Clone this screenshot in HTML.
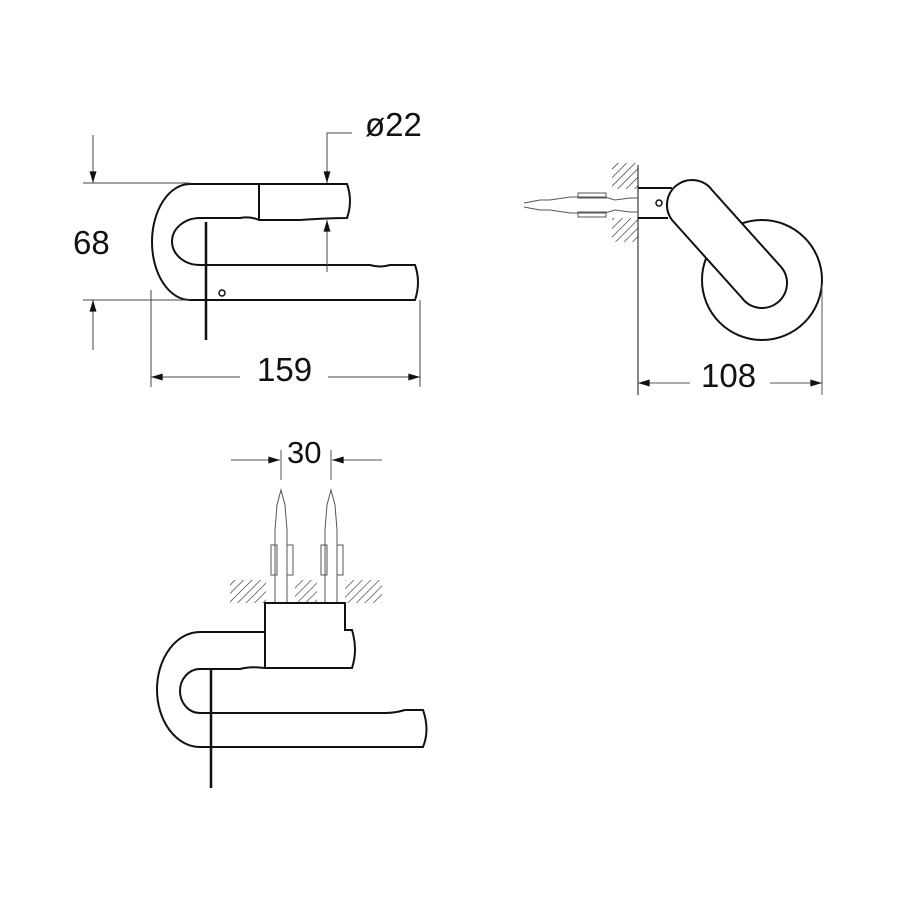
<!DOCTYPE html>
<html><head><style>body{margin:0;background:#fff}svg{display:block}text{font-family:"Liberation Sans",sans-serif;fill:#111}</style></head>
<body>
<svg width="900" height="900" viewBox="0 0 900 900" xmlns="http://www.w3.org/2000/svg">
<defs>
<pattern id="h" width="6" height="6" patternUnits="userSpaceOnUse" patternTransform="rotate(45)"><line x1="0" y1="0" x2="0" y2="6" stroke="#333" stroke-width="1.3"/></pattern>
<marker id="a" viewBox="0 0 10 6" refX="10" refY="3" markerWidth="12" markerHeight="7" orient="auto" markerUnits="userSpaceOnUse"><path d="M0,0L10,3L0,6z" fill="#111"/></marker>
</defs>
<g fill="none" stroke="#111" stroke-width="2">
<!-- top view -->
<path d="M347,184 L190,184 A38,58 0 0 0 190,300 L415,300 Q421,282 415,265 L390,265 Q380,268 370,265 L200,265 A28,23.5 0 0 1 200,218 L240,218 Q250,216 259,220 L300,220 Q330,218 347,218 Q353,201 347,184 Z"/>
<line x1="259" y1="184" x2="259" y2="220"/>
<line x1="206" y1="222" x2="206" y2="340" stroke-width="2.5"/>
<circle cx="222" cy="293" r="3" stroke-width="1.5"/>
</g>
<g stroke="#444" stroke-width="1" fill="none">
<line x1="83" y1="183" x2="190" y2="183"/>
<line x1="83" y1="300" x2="190" y2="300"/>
<line x1="93" y1="135" x2="93" y2="183" marker-end="url(#a)"/>
<line x1="93" y1="350" x2="93" y2="300" marker-end="url(#a)"/>
<line x1="151" y1="290" x2="151" y2="387"/>
<line x1="420" y1="300" x2="420" y2="387"/>
<line x1="240" y1="377" x2="151" y2="377" marker-end="url(#a)"/>
<line x1="328" y1="377" x2="420" y2="377" marker-end="url(#a)"/>
<polyline points="352,133 327,133 327,183" marker-end="url(#a)"/>
<line x1="327" y1="272" x2="327" y2="220" marker-end="url(#a)"/>
</g>
<text x="73" y="254" font-size="33">68</text>
<text x="257" y="381" font-size="33">159</text>
<text x="365" y="136" font-size="33">ø22</text>
<!-- side view -->
<rect x="612" y="163" width="26" height="26" fill="url(#h)"/>
<rect x="612" y="218" width="26" height="24" fill="url(#h)"/>
<g fill="none" stroke="#111" stroke-width="2">
<line x1="638" y1="165" x2="638" y2="395" stroke-width="1"/>
<path d="M638,188 L672,188 M638,218 L668,218"/>
<circle cx="762" cy="280" r="60"/>
<path d="M672,220 L742,298 A17,17 0 0 0 782,268 L712,190 A20,20 0 0 0 672,220 Z" fill="#fff"/>
<circle cx="659" cy="203" r="3" stroke-width="1.5"/>
</g>
<g fill="none" stroke="#555" stroke-width="1">
<path d="M524,203 L540,200 L550,200 L570,197 L605,197 L615,200 L630,198 L638,198 M524,207 L540,210 L550,210 L570,213 L605,213 L615,210 L630,212 L638,212"/>
<rect x="578" y="193" width="28" height="5"/><rect x="578" y="212" width="28" height="5"/>
<line x1="822" y1="285" x2="822" y2="395"/>
<line x1="690" y1="383" x2="638" y2="383" marker-end="url(#a)"/>
<line x1="770" y1="383" x2="822" y2="383" marker-end="url(#a)"/>
</g>
<text x="701" y="387" font-size="33">108</text>
<!-- bottom view -->
<rect x="230" y="580" width="36" height="23" fill="url(#h)"/>
<rect x="295" y="580" width="22" height="23" fill="url(#h)"/>
<rect x="345" y="580" width="37" height="23" fill="url(#h)"/>
<g fill="none" stroke="#555" stroke-width="1">
<path d="M275,602 L275,530 L277,505 L281,490 L285,505 L287,530 L287,602"/>
<path d="M325,602 L325,530 L327,505 L331,490 L335,505 L337,530 L337,602"/>
<rect x="271" y="545" width="6" height="30"/><rect x="287" y="545" width="6" height="30"/>
<rect x="321" y="545" width="6" height="30"/><rect x="337" y="545" width="6" height="30"/>
<line x1="281" y1="450" x2="281" y2="480"/><line x1="331" y1="450" x2="331" y2="480"/>
<line x1="231" y1="460" x2="280" y2="460" marker-end="url(#a)"/>
<line x1="382" y1="460" x2="332" y2="460" marker-end="url(#a)"/>
</g>
<text x="287" y="463" font-size="31">30</text>
<g fill="none" stroke="#111" stroke-width="2">
<path d="M265,603 L345,603 L345,630 L352,630 Q358,650 352,668 L265,668 Z"/>
<path d="M265,632 L200,632 A43,57.5 0 0 0 200,747 L423,747 Q430,730 423,710 L405,710 Q395,713 385,713 L200,713 A20,22 0 0 1 200,669 L240,669 Q250,666 265,668"/>
<line x1="211" y1="668" x2="211" y2="788" stroke-width="2.5"/>
</g>
</svg>
</body></html>
